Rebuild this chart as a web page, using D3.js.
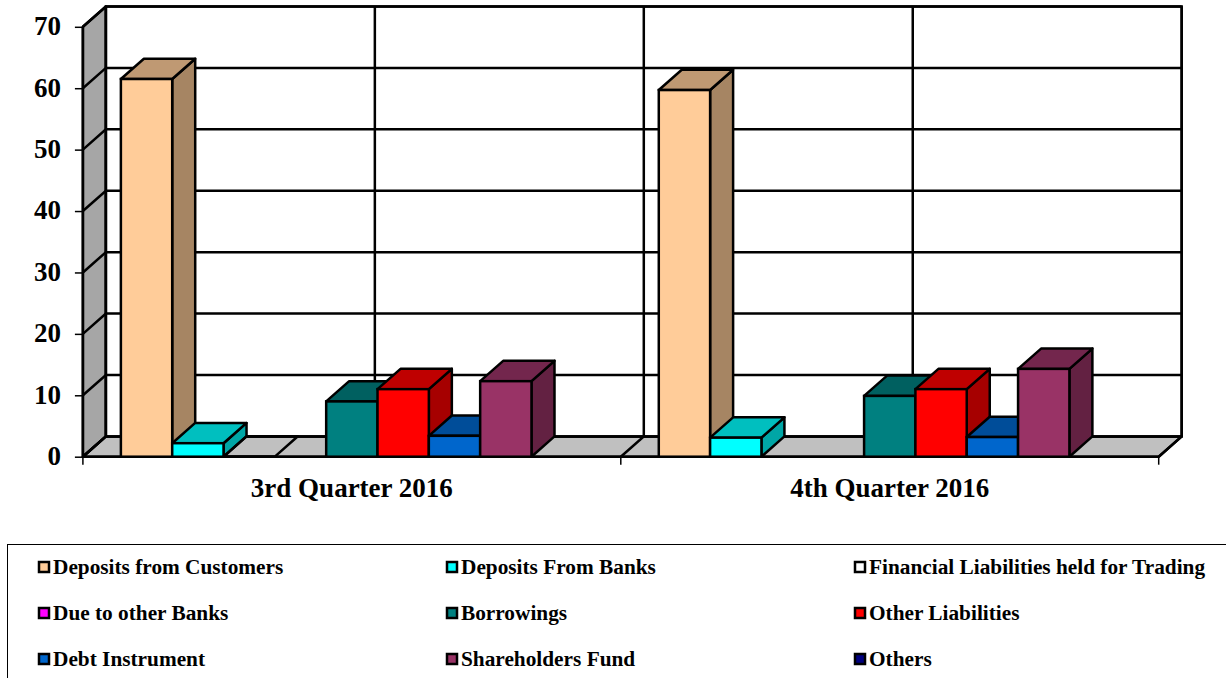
<!DOCTYPE html>
<html><head><meta charset="utf-8">
<script src="https://cdn.jsdelivr.net/npm/d3@7"></script>
<style>html,body{margin:0;padding:0;background:#fff}svg{display:block}text{font-family:"Liberation Serif",serif;font-weight:bold;fill:#000}</style>
</head><body><svg id="c" width="1226" height="678"></svg>
<script>
const categories = ["3rd Quarter 2016", "4th Quarter 2016"];
const seriesNames = ["Deposits from Customers","Deposits From Banks","Financial Liabilities held for Trading","Due to other Banks","Borrowings","Other Liabilities","Debt Instrument","Shareholders Fund","Others"];
const seriesColors = ["#ffcc99","#00ffff","#ffffff","#ff00ff","#008080","#ff0000","#0066cc","#993366","#000080"];
const q3Values = [61.5, 2.2, 0.02, 0, 9.0, 11.0, 3.4, 12.3, 0];
const q4Values = [59.7, 3.1, 0, 0, 9.9, 11.0, 3.2, 14.3, 0];
const yTicks = [0,10,20,30,40,50,60,70];
const gridFractions = [0, 0.5, 1, 1.5, 2];
const dataRows = [q3Values, q4Values];

const svg = d3.select("#c");
const dx = 23, dy = -20.3;
const y = d3.scaleLinear().domain([0,70]).range([456.7,26.8]);
const x = d3.scaleBand().domain(categories).range([82.9,1158.7]);
const xf = d3.scaleLinear().domain([0,2]).range([82.9,1158.7]);
const s = d3.scaleBand().domain(seriesNames).range([0,x.bandwidth()]).paddingInner(0).paddingOuter(0.74);
const stroke = "#000", sw = 2.5;
const poly = (pts, fill, g) => g.append("polygon").attr("points", pts.map(p=>p.join(",")).join(" "))
  .attr("fill", fill).attr("stroke", stroke).attr("stroke-width", sw).attr("stroke-linejoin","round");
const shade = (c,k) => { const r = d3.rgb(c); return d3.rgb(r.r*k, r.g*k, r.b*k).formatHex(); };

const x0 = xf(0), x1 = xf(2), y0 = y(0), yT = y(70);
const chart = svg.append("g");
// walls and floor
poly([[x0,y0],[x0+dx,y0+dy],[x0+dx,yT+dy],[x0,yT]], "#a6a6a6", chart);
poly([[x0,y0],[x1,y0],[x1+dx,y0+dy],[x0+dx,y0+dy]], "#c0c0c0", chart);
chart.append("rect").attr("x",x0+dx).attr("y",yT+dy).attr("width",x1-x0).attr("height",y0-yT)
  .attr("fill","#fff").attr("stroke",stroke).attr("stroke-width",sw);
// gridlines
yTicks.forEach(t=>{
  chart.append("path").attr("fill","none").attr("stroke",stroke).attr("stroke-width",sw)
    .attr("d",`M${x0},${y(t)}L${x0+dx},${y(t)+dy}L${x1+dx},${y(t)+dy}`);
});
gridFractions.forEach(f=>{
  chart.append("path").attr("fill","none").attr("stroke",stroke).attr("stroke-width",sw)
    .attr("d",`M${xf(f)},${y0}L${xf(f)+dx},${y0+dy}L${xf(f)+dx},${yT+dy}`);
});
chart.append("path").attr("fill","none").attr("stroke",stroke).attr("stroke-width",sw)
  .attr("d",`M${x0},${y0}L${x0},${yT}`);
chart.append("path").attr("fill","none").attr("stroke",stroke).attr("stroke-width",sw)
  .attr("d",`M${x0},${y0}L${x1},${y0}`);

// bars
const bars = chart.append("g");
categories.forEach((c,ci)=>{
  seriesNames.forEach((n,si)=>{
    const v = dataRows[ci][si];
    if (!v) return;
    const l = x(c)+s(n), r = l+s.bandwidth(), t = y(v), col = seriesColors[si];
    const flat = si===2;
    if (!flat) {
      poly([[r,y0],[r+dx,y0+dy],[r+dx,t+dy],[r,t]], shade(col,0.65), bars);
    }
    poly([[l,t],[l+dx,t+dy],[r+dx,t+dy],[r,t]], flat ? "none" : shade(col,0.75), bars);
    if (!flat) {
      bars.append("rect").attr("x",l).attr("y",t).attr("width",r-l).attr("height",y0-t)
        .attr("fill",col).attr("stroke",stroke).attr("stroke-width",sw);
    }
  });
});

// axes
const yAxis = svg.append("g").attr("transform",`translate(${x0},0)`)
  .call(d3.axisLeft(y).tickValues(yTicks).tickSize(8).tickSizeOuter(0).tickPadding(14));
yAxis.select(".domain").remove();
yAxis.selectAll("line").attr("stroke","#000").attr("stroke-width",1.5);
yAxis.selectAll("text").attr("font-size",27).attr("fill","#000").attr("dy","0.29em");

const xAxis = svg.append("g").attr("transform",`translate(0,${y0})`)
  .call(d3.axisBottom(x).tickSize(0).tickPadding(21));
xAxis.select(".domain").remove();
xAxis.selectAll("text").attr("font-size",27).attr("fill","#000");
const bt = svg.append("g");
[0,1,2].forEach(f=>bt.append("line").attr("x1",xf(f)).attr("x2",xf(f)).attr("y1",y0).attr("y2",y0+8).attr("stroke","#000").attr("stroke-width",1.5));

// legend
const legendCols = [38,446,854], legendRows = [567,613,659];
const lg = svg.append("g");
lg.append("rect").attr("x",7.5).attr("y",544.5).attr("width",1240).attr("height",160).attr("fill","none").attr("stroke","#000").attr("stroke-width",1);
seriesNames.forEach((n,i)=>{
  const lx = legendCols[i%3], ly = legendRows[Math.floor(i/3)];
  lg.append("rect").attr("x",lx+1).attr("y",ly-5).attr("width",10).attr("height",10)
    .attr("fill",seriesColors[i]).attr("stroke","#000").attr("stroke-width",2.5);
  lg.append("text").attr("x",lx+15).attr("y",ly+6.5).attr("font-size",21.3).text(n);
});
</script></body></html>
